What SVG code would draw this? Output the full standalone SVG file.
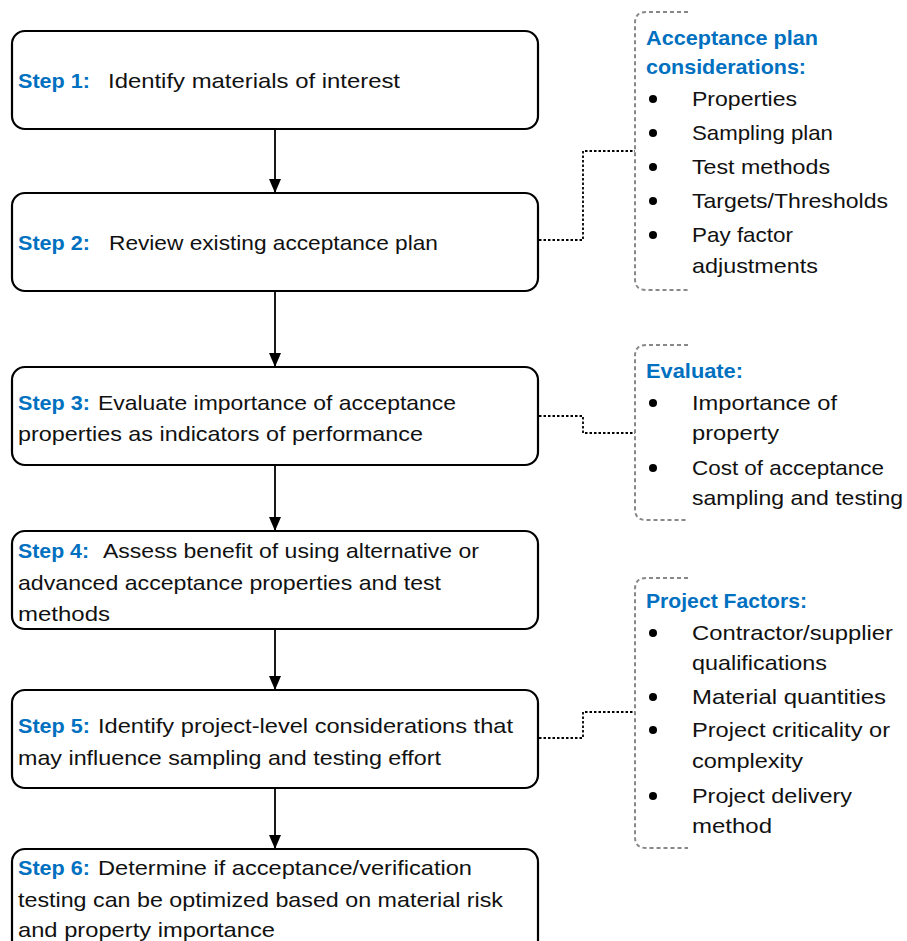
<svg xmlns="http://www.w3.org/2000/svg" width="907" height="941" viewBox="0 0 907 941">
<defs>
<marker id="arr" viewBox="0 0 14 12" refX="14" refY="6" markerWidth="14" markerHeight="12" markerUnits="userSpaceOnUse" orient="auto">
<path d="M0,0 L14,6 L0,12 Z" fill="#000"/>
</marker>
<style>
.box{fill:#fff;stroke:#000;stroke-width:2.2}
.t{font-family:"Liberation Sans",Arial,sans-serif;font-size:21px;fill:#111}
.s{font-family:"Liberation Sans",Arial,sans-serif;font-size:21px;font-weight:bold;fill:#0070C0}
.br{fill:none;stroke:#888;stroke-width:2;stroke-dasharray:4 3}
.dot{fill:none;stroke:#000;stroke-width:1.8;stroke-dasharray:2.5 2}
.arrow{fill:none;stroke:#000;stroke-width:1.8}
.b{fill:#000}
</style>
</defs>
<rect width="907" height="941" fill="#fff"/>

<g id="connectors">
<line class="arrow" x1="275" y1="129" x2="275" y2="193" marker-end="url(#arr)"/>
<line class="arrow" x1="275" y1="291" x2="275" y2="367" marker-end="url(#arr)"/>
<line class="arrow" x1="275" y1="465" x2="275" y2="531" marker-end="url(#arr)"/>
<line class="arrow" x1="275" y1="629" x2="275" y2="690" marker-end="url(#arr)"/>
<line class="arrow" x1="275" y1="788" x2="275" y2="849" marker-end="url(#arr)"/>
<path class="dot" d="M539,240 H583 V151 H635"/>
<path class="dot" d="M539,416 H583 V433 H635"/>
<path class="dot" d="M539,738 H583 V712 H635"/>
</g>

<g id="step1">
<rect class="box" x="12" y="31" width="526" height="98" rx="13"/>
<text class="s" x="18" y="88" textLength="72" lengthAdjust="spacingAndGlyphs">Step 1:</text>
<text class="t" x="108" y="88" textLength="292" lengthAdjust="spacingAndGlyphs">Identify materials of interest</text>
</g>

<g id="step2">
<rect class="box" x="12" y="193" width="526" height="98" rx="13"/>
<text class="s" x="18" y="250" textLength="72" lengthAdjust="spacingAndGlyphs">Step 2:</text>
<text class="t" x="109" y="250" textLength="329" lengthAdjust="spacingAndGlyphs">Review existing acceptance plan</text>
</g>

<g id="step3">
<rect class="box" x="12" y="367" width="526" height="98" rx="13"/>
<text class="s" x="18" y="410" textLength="72" lengthAdjust="spacingAndGlyphs">Step 3:</text>
<text class="t" x="98" y="410" textLength="358" lengthAdjust="spacingAndGlyphs">Evaluate importance of acceptance</text>
<text class="t" x="18" y="441" textLength="405" lengthAdjust="spacingAndGlyphs">properties as indicators of performance</text>
</g>

<g id="step4">
<rect class="box" x="12" y="531" width="526" height="98" rx="13"/>
<text class="s" x="18" y="558" textLength="71" lengthAdjust="spacingAndGlyphs">Step 4:</text>
<text class="t" x="103" y="558" textLength="376" lengthAdjust="spacingAndGlyphs">Assess benefit of using alternative or</text>
<text class="t" x="18" y="590" textLength="423" lengthAdjust="spacingAndGlyphs">advanced acceptance properties and test</text>
<text class="t" x="18" y="621" textLength="92" lengthAdjust="spacingAndGlyphs">methods</text>
</g>

<g id="step5">
<rect class="box" x="12" y="690" width="526" height="98" rx="13"/>
<text class="s" x="18" y="733" textLength="72" lengthAdjust="spacingAndGlyphs">Step 5:</text>
<text class="t" x="98" y="733" textLength="415" lengthAdjust="spacingAndGlyphs">Identify project-level considerations that</text>
<text class="t" x="18" y="765" textLength="423" lengthAdjust="spacingAndGlyphs">may influence sampling and testing effort</text>
</g>

<g id="step6">
<rect class="box" x="12" y="849" width="526" height="110" rx="13"/>
<text class="s" x="18" y="875" textLength="72" lengthAdjust="spacingAndGlyphs">Step 6:</text>
<text class="t" x="98" y="875" textLength="374" lengthAdjust="spacingAndGlyphs">Determine if acceptance/verification</text>
<text class="t" x="18" y="907" textLength="485" lengthAdjust="spacingAndGlyphs">testing can be optimized based on material risk</text>
<text class="t" x="18" y="937" textLength="257" lengthAdjust="spacingAndGlyphs">and property importance</text>
</g>

<g id="acceptance-plan">
<path class="br" d="M688,12 H646 Q635,12 635,23 V279 Q635,290 646,290 H688"/>
<text class="s" x="646" y="45" textLength="172" lengthAdjust="spacingAndGlyphs">Acceptance plan</text>
<text class="s" x="646" y="74" textLength="160" lengthAdjust="spacingAndGlyphs">considerations:</text>
<circle class="b" cx="653" cy="99" r="4"/>
<text class="t" x="692" y="106" textLength="105" lengthAdjust="spacingAndGlyphs">Properties</text>
<circle class="b" cx="653" cy="133" r="4"/>
<text class="t" x="692" y="140" textLength="141" lengthAdjust="spacingAndGlyphs">Sampling plan</text>
<circle class="b" cx="653" cy="167" r="4"/>
<text class="t" x="692" y="174" textLength="138" lengthAdjust="spacingAndGlyphs">Test methods</text>
<circle class="b" cx="653" cy="201" r="4"/>
<text class="t" x="692" y="208" textLength="196" lengthAdjust="spacingAndGlyphs">Targets/Thresholds</text>
<circle class="b" cx="653" cy="235" r="4"/>
<text class="t" x="692" y="242" textLength="101" lengthAdjust="spacingAndGlyphs">Pay factor</text>
<text class="t" x="692" y="273" textLength="126" lengthAdjust="spacingAndGlyphs">adjustments</text>
</g>

<g id="evaluate">
<path class="br" d="M688,345 H646 Q635,345 635,356 V509 Q635,520 646,520 H688"/>
<text class="s" x="646" y="378" textLength="97" lengthAdjust="spacingAndGlyphs">Evaluate:</text>
<circle class="b" cx="653" cy="403" r="4"/>
<text class="t" x="692" y="410" textLength="145" lengthAdjust="spacingAndGlyphs">Importance of</text>
<text class="t" x="692" y="440" textLength="87" lengthAdjust="spacingAndGlyphs">property</text>
<circle class="b" cx="653" cy="468" r="4"/>
<text class="t" x="692" y="475" textLength="192" lengthAdjust="spacingAndGlyphs">Cost of acceptance</text>
<text class="t" x="692" y="505" textLength="211" lengthAdjust="spacingAndGlyphs">sampling and testing</text>
</g>

<g id="project-factors">
<path class="br" d="M688,578 H646 Q635,578 635,589 V837 Q635,848 646,848 H688"/>
<text class="s" x="646" y="608" textLength="161" lengthAdjust="spacingAndGlyphs">Project Factors:</text>
<circle class="b" cx="653" cy="633" r="4"/>
<text class="t" x="692" y="640" textLength="201" lengthAdjust="spacingAndGlyphs">Contractor/supplier</text>
<text class="t" x="692" y="670" textLength="135" lengthAdjust="spacingAndGlyphs">qualifications</text>
<circle class="b" cx="653" cy="697" r="4"/>
<text class="t" x="692" y="704" textLength="194" lengthAdjust="spacingAndGlyphs">Material quantities</text>
<circle class="b" cx="653" cy="730" r="4"/>
<text class="t" x="692" y="737" textLength="198" lengthAdjust="spacingAndGlyphs">Project criticality or</text>
<text class="t" x="692" y="768" textLength="111" lengthAdjust="spacingAndGlyphs">complexity</text>
<circle class="b" cx="653" cy="796" r="4"/>
<text class="t" x="692" y="803" textLength="160" lengthAdjust="spacingAndGlyphs">Project delivery</text>
<text class="t" x="692" y="833" textLength="80" lengthAdjust="spacingAndGlyphs">method</text>
</g>
</svg>
